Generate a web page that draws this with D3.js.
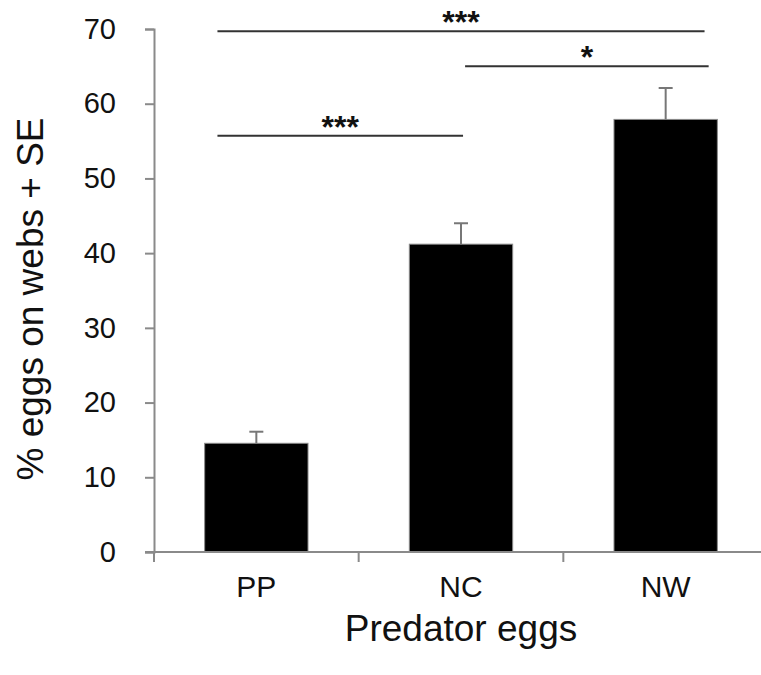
<!DOCTYPE html>
<html>
<head>
<meta charset="utf-8">
<script src="https://cdn.jsdelivr.net/npm/d3@7"></script>
<style>
  body { margin: 0; background: #fff; }
  svg { display: block; font-family: "Liberation Sans", Arial, sans-serif; }
</style>
</head>
<body>
<div id="chart"></div>
<script>
const categories = ["PP", "NC", "NW"];
const means = [14.55, 41.2, 57.9];
const errors = [1.55, 2.8, 4.2];
const yTicks = [0, 10, 20, 30, 40, 50, 60, 70];

// significance brackets: pair, level (in y units), stars
const sigPairs = [["PP", "NW"], ["NC", "NW"], ["PP", "NC"]];
const sigLevels = [69.7, 65.0, 55.7];
const sigLabels = ["***", "*", "***"];

const width = 761;
const height = 675;
const margin = { t: 29, l: 154 };
const plotH = 523;
const plotW = 614;

const data = categories.map((c, i) => ({ cat: c, mean: means[i], se: errors[i] }));

const svg = d3.select("#chart")
  .append("svg")
  .attr("width", width)
  .attr("height", height);

const x = d3.scaleBand()
  .domain(categories)
  .range([margin.l, margin.l + plotW])
  .padding(0);

const y = d3.scaleLinear()
  .domain([0, 70])
  .range([margin.t + plotH, margin.t]);

const axisColor = "#8a8a8a";
const barW = x.bandwidth() * 0.505;

// bars
svg.append("g")
  .selectAll("rect")
  .data(data)
  .join("rect")
  .attr("x", d => x(d.cat) + (x.bandwidth() - barW) / 2)
  .attr("y", d => y(d.mean))
  .attr("width", barW)
  .attr("height", d => y(0) - y(d.mean))
  .attr("fill", "#000")
  .attr("stroke", "#8a8a8a")
  .attr("stroke-width", 1);

// error bars (upper only)
const err = svg.append("g")
  .attr("stroke", "#777")
  .attr("stroke-width", 2);

err.selectAll("line.stem")
  .data(data)
  .join("line")
  .attr("class", "stem")
  .attr("x1", d => x(d.cat) + x.bandwidth() / 2)
  .attr("x2", d => x(d.cat) + x.bandwidth() / 2)
  .attr("y1", d => y(d.mean))
  .attr("y2", d => y(d.mean + d.se));

err.selectAll("line.cap")
  .data(data)
  .join("line")
  .attr("class", "cap")
  .attr("x1", d => x(d.cat) + x.bandwidth() / 2 - 7)
  .attr("x2", d => x(d.cat) + x.bandwidth() / 2 + 7)
  .attr("y1", d => y(d.mean + d.se))
  .attr("y2", d => y(d.mean + d.se));

// y axis
const yAxis = svg.append("g")
  .attr("transform", `translate(${margin.l},0)`)
  .call(d3.axisLeft(y).tickValues(yTicks).tickSize(9).tickPadding(29));

yAxis.selectAll("path, line").attr("stroke", axisColor).attr("stroke-width", 2);
yAxis.selectAll("text")
  .attr("fill", "#111")
  .style("font-size", "29px")
  .style("font-family", "Liberation Sans, Arial, sans-serif");

// x axis: baseline, boundary ticks, labels
const xAxis = svg.append("g")
  .attr("transform", `translate(0,${y(0)})`)
  .call(d3.axisBottom(x).tickSize(0).tickPadding(24));

xAxis.select(".domain").remove();
xAxis.selectAll("text")
  .attr("fill", "#111")
  .style("font-size", "30px")
  .style("font-family", "Liberation Sans, Arial, sans-serif");

xAxis.append("line")
  .attr("x1", margin.l - 9)
  .attr("x2", margin.l + plotW)
  .attr("stroke", axisColor)
  .attr("stroke-width", 2);

xAxis.selectAll("line.bound")
  .data(categories.concat(["end"]))
  .join("line")
  .attr("class", "bound")
  .attr("x1", (d, i) => margin.l + i * x.step())
  .attr("x2", (d, i) => margin.l + i * x.step())
  .attr("y1", 0)
  .attr("y2", 10)
  .attr("stroke", axisColor)
  .attr("stroke-width", 2);

// significance brackets
const sigStart = [0.31, 0.52, 0.31];
const sigEnd = [0.69, 0.71, 0.51];

const sig = svg.append("g");
sigPairs.forEach((p, i) => {
  const x1 = x(p[0]) + x.bandwidth() * sigStart[i];
  const x2 = x(p[1]) + x.bandwidth() * sigEnd[i];
  sig.append("line")
    .attr("x1", x1)
    .attr("x2", x2)
    .attr("y1", y(sigLevels[i]))
    .attr("y2", y(sigLevels[i]))
    .attr("stroke", "#333")
    .attr("stroke-width", 2);
  sig.append("text")
    .attr("x", (x1 + x2) / 2)
    .attr("y", y(sigLevels[i]) + 2)
    .attr("text-anchor", "middle")
    .style("font-size", "32px")
    .style("font-weight", "bold")
    .attr("fill", "#111")
    .text(sigLabels[i]);
});

// axis titles
svg.append("text")
  .attr("x", margin.l + plotW / 2)
  .attr("y", 641)
  .attr("text-anchor", "middle")
  .style("font-size", "37px")
  .attr("fill", "#111")
  .text("Predator eggs");

svg.append("text")
  .attr("transform", "translate(43,299) rotate(-90)")
  .attr("text-anchor", "middle")
  .style("font-size", "37px")
  .attr("fill", "#111")
  .text("% eggs on webs + SE");
</script>
</body>
</html>
